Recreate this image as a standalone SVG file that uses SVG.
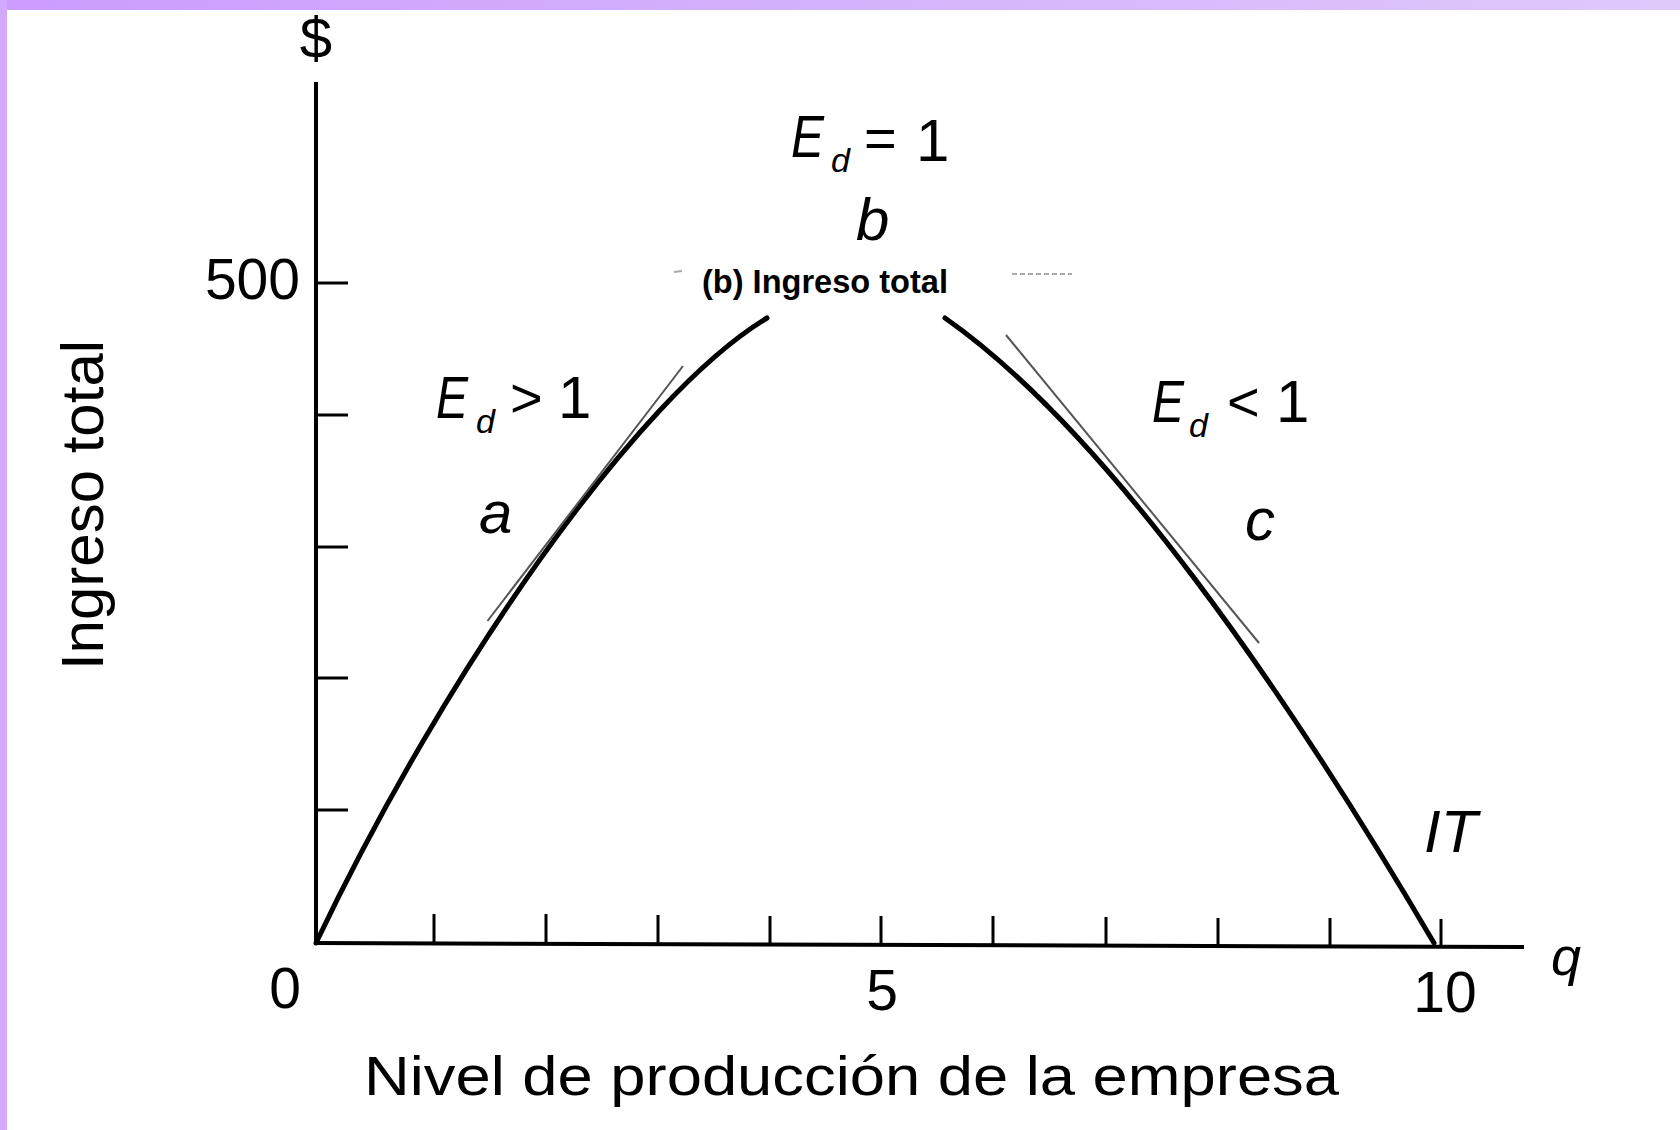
<svg xmlns="http://www.w3.org/2000/svg" width="1680" height="1130" viewBox="0 0 1680 1130">
  <defs>
    <linearGradient id="topbar" x1="0" y1="0" x2="1" y2="0">
      <stop offset="0" stop-color="#cb9cfd"/>
      <stop offset="1" stop-color="#dfc9fb"/>
    </linearGradient>
    <style>
      text { font-family: "Liberation Sans", Arial, sans-serif; fill: #000; }
      .num { font-size: 57px; }
      .it { font-style: italic; font-size: 60px; }
      .sub { font-style: italic; font-size: 34px; }
      .axis { stroke: #000; stroke-width: 4; fill: none; }
      .tick { stroke: #000; stroke-width: 3; fill: none; }
      .curve { stroke: #000; stroke-width: 5; fill: none; stroke-linecap: round; }
      .tangent { stroke: #555; stroke-width: 2; fill: none; }
    </style>
  </defs>

  <rect x="0" y="0" width="1680" height="1130" fill="#ffffff"/>
  <g id="frame">
    <rect x="0" y="0" width="1680" height="10" fill="url(#topbar)"/>
    <rect x="0" y="0" width="7" height="1130" fill="#d2a9fd"/>
  </g>

  <g id="axes">
    <line class="axis" x1="316" y1="82" x2="316" y2="945"/>
    <line class="axis" x1="314" y1="943" x2="1524" y2="947"/>
    <g id="y-ticks">
      <line class="tick" x1="316" y1="283" x2="348" y2="283"/>
      <line class="tick" x1="316" y1="415" x2="348" y2="415"/>
      <line class="tick" x1="316" y1="547" x2="348" y2="547"/>
      <line class="tick" x1="316" y1="678" x2="348" y2="678"/>
      <line class="tick" x1="316" y1="810" x2="348" y2="810"/>
    </g>
    <g id="x-ticks">
      <line class="tick" x1="434" y1="914" x2="434" y2="943"/>
      <line class="tick" x1="546" y1="914" x2="546" y2="944"/>
      <line class="tick" x1="658" y1="915" x2="658" y2="944"/>
      <line class="tick" x1="770" y1="916" x2="770" y2="944"/>
      <line class="tick" x1="881" y1="916" x2="881" y2="945"/>
      <line class="tick" x1="993" y1="916" x2="993" y2="945"/>
      <line class="tick" x1="1106" y1="917" x2="1106" y2="946"/>
      <line class="tick" x1="1218" y1="918" x2="1218" y2="946"/>
      <line class="tick" x1="1330" y1="918" x2="1330" y2="946"/>
      <line class="tick" x1="1441" y1="919" x2="1441" y2="947"/>
    </g>
    <text x="316" y="58" text-anchor="middle" style="font-size:58px">$</text>
    <text class="num" x="300" y="299" text-anchor="end">500</text>
    <text class="num" x="285" y="1008" text-anchor="middle">0</text>
    <text class="num" x="882" y="1010" text-anchor="middle">5</text>
    <text class="num" x="1445" y="1012" text-anchor="middle">10</text>
    <text class="it" x="1551" y="975" style="font-size:54px">q</text>
    <text x="0" y="0" transform="translate(103,505) rotate(-90)" text-anchor="middle" style="font-size:60px">Ingreso total</text>
    <text x="364" y="1095" style="font-size:55px" textLength="975" lengthAdjust="spacingAndGlyphs">Nivel de producción de la empresa</text>
  </g>

  <g id="connectors">
    <path id="curve-left" class="curve" d="M316,943 C446,670 637,396 767,318"/>
    <path id="curve-right" class="curve" d="M945,318 C1105,430 1284,688 1434,943"/>
    <line id="tangent-a" class="tangent" x1="487.5" y1="621" x2="683" y2="366"/>
    <line id="tangent-c" class="tangent" x1="1006" y1="335" x2="1259" y2="643"/>
  </g>

  <g id="title">
    <line x1="674" y1="272" x2="682" y2="271" stroke="#aaa" stroke-width="2"/>
    <line x1="1012" y1="274" x2="1072" y2="274" stroke="#aaa" stroke-width="2" stroke-dasharray="5,3"/>
    <text x="702" y="293" style="font-size:34px;font-weight:bold" textLength="246" lengthAdjust="spacingAndGlyphs">(b) Ingreso total</text>
  </g>

  <g id="point-b">
    <text class="it" x="791" y="157" textLength="33" lengthAdjust="spacingAndGlyphs">E</text>
    <text class="sub" x="831" y="172">d</text>
    <text x="864" y="157" style="font-size:56px">=</text>
    <text x="916" y="161" style="font-size:60px">1</text>
    <text class="it" x="856" y="240">b</text>
  </g>

  <g id="point-a">
    <text class="it" x="436" y="418" textLength="32" lengthAdjust="spacingAndGlyphs">E</text>
    <text class="sub" x="476" y="433">d</text>
    <text x="510" y="417" style="font-size:56px">&gt;</text>
    <text x="558" y="418" style="font-size:60px">1</text>
    <text class="it" x="479" y="533">a</text>
  </g>

  <g id="point-c">
    <text class="it" x="1152" y="422" textLength="32" lengthAdjust="spacingAndGlyphs">E</text>
    <text class="sub" x="1189" y="437">d</text>
    <text x="1227" y="421" style="font-size:56px">&lt;</text>
    <text x="1276" y="422" style="font-size:60px">1</text>
    <text class="it" x="1245" y="540">c</text>
  </g>

  <g id="label-IT">
    <text class="it" x="1424" y="852">IT</text>
  </g>
</svg>
